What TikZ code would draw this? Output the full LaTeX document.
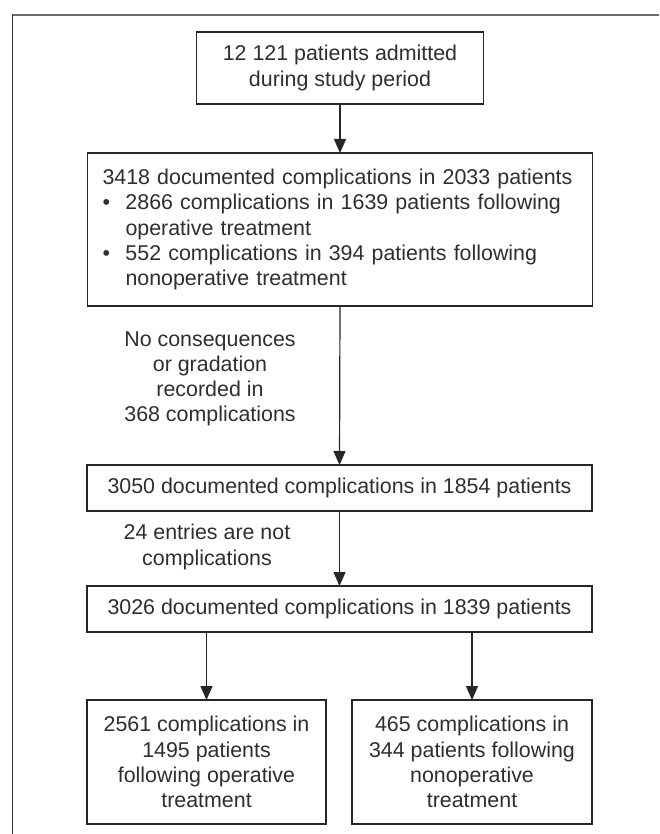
\documentclass[tikz,border=0pt]{standalone}
\usepackage{fontspec}
\setmainfont{Liberation Sans}
\usetikzlibrary{arrows.meta}
\definecolor{ink}{HTML}{2E2E2E}
\definecolor{rulegray}{HTML}{6B6B6B}
\newcommand{\bul}{\makebox[11.5pt][l]{\textbullet}}

\begin{document}
\begin{tikzpicture}[x=0.5pt,y=-0.5pt,
  font=\fontsize{10.7}{12.6}\selectfont,
  box/.style={draw=black!85,line width=0.6pt,outer sep=0pt,inner sep=0pt,align=center,text=ink},
  lbl/.style={align=center,text=ink},
  arr/.style={-{Triangle[width=6pt,length=7pt]},line width=0.6pt,black!85}]
\useasboundingbox (0,0) rectangle (659,834);
% frame, open at right and bottom
\draw[rulegray,line width=1.2pt] (12,15) -- (659,15);
\draw[black!80,line width=0.5pt] (12,15) -- (12,834);
% boxes
\node[box,minimum width=143.5pt,minimum height=36pt] (admit) at (340,68) {12 121 patients admitted\\during study period};
\node[box,text width=237.5pt,inner xsep=7.5pt,align=left,minimum height=76.5pt] (compl) at (340,229.5)
  {3418 documented complications in 2033 patients\\
   \bul 2866 complications in 1639 patients following\\
   \hspace*{11.5pt}operative treatment\\
   \bul 552 complications in 394 patients following\\
   \hspace*{11.5pt}nonoperative treatment};
\node[lbl] (nocons) at (210,379) {No consequences\\or gradation\\recorded in\\368 complications};
\node[box,minimum width=252.5pt,minimum height=23pt] (doc3050) at (339.5,488) {3050 documented complications in 1854 patients};
\node[lbl] (notcomp) at (207,547) {24 entries are not\\complications};
\node[box,minimum width=252.5pt,minimum height=23pt] (doc3026) at (339.5,609) {3026 documented complications in 1839 patients};
\node[box,minimum width=119.5pt,minimum height=62pt] (oper) at (206.5,762) {2561 complications in\\1495 patients\\following operative\\treatment};
\node[box,minimum width=120pt,minimum height=62pt] (nonop) at (472,762) {465 complications in\\344 patients following\\nonoperative\\treatment};
% arrows
\draw[arr] (admit.south) -- (admit.south |- compl.north);
\draw[arr] (compl.south) -- (doc3050.north);
\draw[arr] (doc3050.south) -- (doc3026.north);
\draw[arr] (oper.north |- doc3026.south) -- (oper.north);
\draw[arr] (nonop.north |- doc3026.south) -- (nonop.north);
\end{tikzpicture}
\end{document}
